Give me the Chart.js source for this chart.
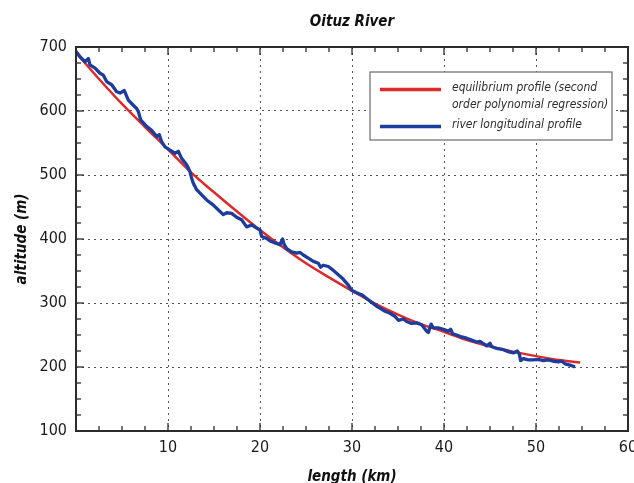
<!DOCTYPE html>
<html><head><meta charset="utf-8">
<script src="https://cdn.jsdelivr.net/npm/chart.js@4.4.0/dist/chart.umd.min.js"></script>
<style>html,body{margin:0;padding:0;background:#fff;overflow:hidden}#wrap{position:relative;width:634px;height:483px}</style>
</head><body><div id="wrap"><canvas id="c" width="634" height="483"></canvas></div>
<script>
const chartTitle = 'Oituz River';
const xAxisTitle = 'length (km)';
const yAxisTitle = 'altitude (m)';
const xRange = [0, 60];
const yRange = [100, 700];
const xMajorStep = 10, xMinorStep = 2.5;
const yMajorStep = 100, yMinorStep = 25;

const equilibriumLabel = ['equilibrium profile (second', 'order polynomial regression)'];
const riverLabel = ['river longitudinal profile'];

const equilibriumKm  = [0, 2.5, 5, 7.5, 10, 12.5, 15, 17.5, 20, 22.5, 25, 27.5, 30, 32.5, 35, 37.5, 40, 42.5, 45, 47.5, 50, 52.5, 54.8];
const equilibriumAlt = [691, 650, 611, 575, 540, 504, 473, 443, 414, 387, 362, 340, 319, 299, 282, 267, 255, 242, 232, 224, 217, 211, 207];

const riverKm = [0, 0.43, 0.98, 1.35, 1.52, 2.07, 2.61, 2.97, 3.33, 3.88, 4.42, 4.78, 5.25, 5.69, 6.23, 6.59, 6.78, 7.03, 7.68, 8.22, 8.77, 9.06, 9.31, 9.67,
  10.22, 10.76, 11.12, 11.48, 12.03, 12.39, 12.57, 12.75, 13.12, 13.66, 14.2, 14.93, 15.65, 16.01, 16.38, 16.92, 17.46, 18.0, 18.55, 19.09, 19.64,
  20.0, 20.18, 20.72, 21.09, 21.63, 22.17, 22.46, 22.61, 22.9, 23.44, 23.99, 24.35, 24.71, 25.25, 25.8, 26.34, 26.59, 26.88, 27.43, 27.97, 28.51,
  29.06, 29.6, 29.96, 30.51, 31.05, 31.59, 32.14, 32.68, 33.04, 33.59, 34.13, 34.67, 35.04, 35.58, 35.94, 36.49, 37.03, 37.57, 38.12, 38.3, 38.6,
  38.84, 39.38, 39.93, 40.47, 40.72, 40.94, 41.38, 41.92, 42.46, 43.0, 43.55, 43.91, 44.45, 44.64, 45.0, 45.18, 45.72, 46.45, 46.99, 47.54, 47.97,
  48.19, 48.33, 48.62, 49.17, 49.71, 50.25, 50.8, 51.34, 51.88, 52.43, 52.79, 53.15, 53.7, 54.24];
const riverAlt = [693, 685, 677, 682, 672, 667, 659, 656, 646, 641, 630, 628, 632, 617, 609, 604, 599, 586, 576, 570, 560, 563, 552, 544,
  539, 534, 537, 526, 516, 505, 495, 487, 477, 469, 461, 453, 443, 438, 441, 440, 434, 430, 419, 422, 417,
  414, 404, 401, 397, 394, 391, 400, 392, 385, 380, 378, 379, 375, 370, 365, 362, 356, 359, 357, 351, 344,
  337, 328, 320, 316, 313, 307, 301, 295, 292, 287, 284, 279, 273, 275, 271, 268, 269, 266, 256, 254, 267,
  261, 261, 259, 256, 259, 252, 250, 247, 245, 242, 239, 240, 235, 233, 237, 232, 229, 227, 224, 222, 225,
  220, 210, 213, 211, 211, 212, 210, 211, 209, 208, 209, 205, 203, 200];

const FAM = '"Liberation Sans Narrow", "DejaVu Sans Condensed", "Roboto Condensed", sans-serif';
const RED = '#dc2a2a';
const BLUE = '#1c3c9e';

function pts(xs, ys) { return xs.map((x, i) => ({ x: x, y: ys[i] })); }

const frameTicks = {
  id: 'frameTicks',
  afterDatasetsDraw(chart) {
    const { ctx, chartArea: a, scales: { x, y } } = chart;
    ctx.save();
    ctx.strokeStyle = '#2b2b2b';
    ctx.lineWidth = 1.3;
    const seg = (x1, y1, x2, y2) => { ctx.beginPath(); ctx.moveTo(x1, y1); ctx.lineTo(x2, y2); ctx.stroke(); };
    const isMajor = (v, step) => Math.abs(v / step - Math.round(v / step)) < 1e-6;
    for (let v = x.min; v <= x.max + 1e-9; v += xMinorStep) {
      const p = x.getPixelForValue(v);
      const len = isMajor(v, xMajorStep) ? 8 : 5;
      seg(p, a.bottom, p, a.bottom - len);
      seg(p, a.top, p, a.top + len);
    }
    for (let v = y.min; v <= y.max + 1e-9; v += yMinorStep) {
      const p = y.getPixelForValue(v);
      const len = isMajor(v, yMajorStep) ? 8 : 5;
      seg(a.left, p, a.left + len, p);
      seg(a.right, p, a.right - len, p);
    }
    ctx.lineWidth = 2;
    ctx.strokeRect(a.left, a.top, a.right - a.left, a.bottom - a.top);
    // legend box
    const lx = a.right - 258, ly = a.top + 25, lw = 242, lh = 68;
    ctx.fillStyle = '#fff';
    ctx.fillRect(lx, ly, lw, lh);
    ctx.strokeStyle = '#6a6a6a';
    ctx.lineWidth = 1.2;
    ctx.strokeRect(lx, ly, lw, lh);
    ctx.font = 'italic 12px ' + FAM;
    ctx.textBaseline = 'middle';
    ctx.textAlign = 'left';
    ctx.fillStyle = '#2e2e2e';
    let cy = ly + 16;
    chart.data.datasets.forEach(ds => {
      const lines = ds.label;
      ctx.strokeStyle = ds.borderColor;
      ctx.lineWidth = 3.5;
      ctx.beginPath(); ctx.moveTo(lx + 10, cy + 1.5); ctx.lineTo(lx + 71, cy + 1.5); ctx.stroke();
      lines.forEach((t, j) => { ctx.fillText(t, lx + 82, cy + j * 17); });
      cy += lines.length * 17 + 3;
    });
    ctx.restore();
  }
};

new Chart(document.getElementById('c'), {
  type: 'line',
  data: {
    datasets: [
      { label: equilibriumLabel, data: pts(equilibriumKm, equilibriumAlt), borderColor: RED, borderWidth: 2.5,
        pointRadius: 0, cubicInterpolationMode: 'monotone', fill: false, order: 1 },
      { label: riverLabel, data: pts(riverKm, riverAlt), borderColor: BLUE, borderWidth: 3.3,
        pointRadius: 0, tension: 0, fill: false, order: 0, borderJoinStyle: 'round' }
    ]
  },
  options: {
    responsive: false,
    animation: false,
    layout: { padding: { left: 0, right: 6, top: 0, bottom: 0 } },
    plugins: {
      legend: { display: false },
      tooltip: { enabled: false },
      title: { display: true, text: chartTitle, fullSize: false, color: '#111',
        font: { family: FAM, size: 15, weight: 'bold', style: 'italic', lineHeight: 1.2 },
        padding: { top: 13, bottom: 16 } }
    },
    scales: {
      x: {
        type: 'linear', min: xRange[0], max: xRange[1],
        ticks: { stepSize: xMajorStep, autoSkip: false, maxRotation: 0, padding: 7, color: '#1a1a1a',
          font: { family: FAM, size: 16 }, callback: v => (v === xRange[0] ? '' : v) },
        grid: { color: '#555', lineWidth: 1, drawTicks: false },
        border: { display: false, dash: [2, 4] },
        title: { display: true, text: xAxisTitle, color: '#111', padding: 0,
          font: { family: FAM, size: 15, weight: 'bold', style: 'italic', lineHeight: 0.75 } },
        afterFit(s) { s.height = 52; s.paddingLeft = 0; s.paddingRight = 0; }
      },
      y: {
        type: 'linear', min: yRange[0], max: yRange[1],
        ticks: { stepSize: yMajorStep, padding: 9, color: '#1a1a1a', font: { family: FAM, size: 16 } },
        grid: { color: '#555', lineWidth: 1, drawTicks: false },
        border: { display: false, dash: [2, 4] },
        title: { display: true, text: yAxisTitle, color: '#111', padding: { top: 13, bottom: 0 },
          font: { family: FAM, size: 15, weight: 'bold', style: 'italic', lineHeight: 1.2 } },
        afterFit(s) { s.width = 76; s.paddingTop = 0; s.paddingBottom = 0; }
      }
    }
  },
  plugins: [frameTicks]
});
</script>
</body></html>
